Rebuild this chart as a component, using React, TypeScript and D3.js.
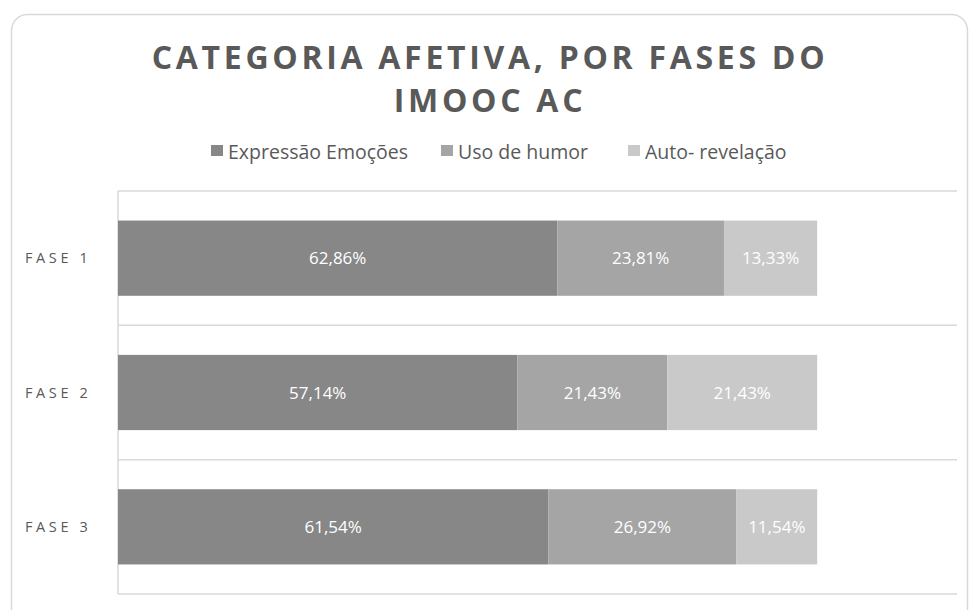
import React from "react";
import * as d3 from "d3";

const categories = ["FASE 1", "FASE 2", "FASE 3"];
const seriesNames = ["Expressão Emoções", "Uso de humor", "Auto- revelação"];
const expressao = [62.86, 57.14, 61.54];
const humor = [23.81, 21.43, 26.92];
const autoRevelacao = [13.33, 21.43, 11.54];
const labelsExpressao = ["62,86%", "57,14%", "61,54%"];
const labelsHumor = ["23,81%", "21,43%", "26,92%"];
const labelsAuto = ["13,33%", "21,43%", "11,54%"];
const colors = ["#878787", "#a5a5a5", "#c9c9c9"];
const xMax = 120;

export default function App() {
  const W = 971, H = 610;
  const left = 118, right = 957, top = 191, bottom = 594;
  const x = d3.scaleLinear().domain([0, xMax]).range([left, right]);
  const y = d3.scaleBand<string>().domain(categories).range([top, bottom]).paddingInner(0.44).paddingOuter(0.22);
  const seriesVals = [expressao, humor, autoRevelacao];
  const seriesLabels = [labelsExpressao, labelsHumor, labelsAuto];
  const rows = categories.map((c, i) => ({ cat: c, ...Object.fromEntries(seriesNames.map((s, k) => [s, seriesVals[k][i]])) }));
  const stacked = d3.stack<any>().keys(seriesNames)(rows);
  const step = (bottom - top) / categories.length;
  const font = "'Open Sans', sans-serif";
  const legendItems = [
    { x: 211, name: seriesNames[0] },
    { x: 441, name: seriesNames[1] },
    { x: 628, name: seriesNames[2] },
  ];
  return (
    <svg width={W} height={H} style={{ position: "fixed", left: 0, top: 0, background: "#fff" }} fontFamily={font}>
      <rect x={11.5} y={14.5} width={956} height={610} rx={16} fill="#fff" stroke="#d9d9d9" strokeWidth={1.5} />
      <text x={490} y={69} textAnchor="middle" fontSize={32} fontWeight={700} fill="#595959" letterSpacing={3.7}>CATEGORIA AFETIVA, POR FASES DO</text>
      <text x={490} y={112} textAnchor="middle" fontSize={32} fontWeight={700} fill="#595959" letterSpacing={3.7}>IMOOC AC</text>
      {legendItems.map((l, i) => (
        <g key={l.name}>
          <rect x={l.x} y={145} width={12} height={11} fill={colors[i]} />
          <text x={l.x + 17} y={158.5} fontSize={19.5} fill="#595959">{l.name}</text>
        </g>
      ))}
      {d3.range(categories.length + 1).map((i) => (
        <line key={i} x1={left} x2={right} y1={top + i * step} y2={top + i * step} stroke="#d9d9d9" strokeWidth={1.5} />
      ))}
      <line x1={left} x2={left} y1={top} y2={bottom} stroke="#d9d9d9" strokeWidth={1.5} />
      {stacked.map((s, k) => (
        <g key={s.key}>
          {s.map((d, i) => (
            <g key={i}>
              <rect x={x(d[0])} y={y(categories[i])!} width={x(d[1]) - x(d[0])} height={y.bandwidth()} fill={colors[k]} />
              <text x={(x(d[0]) + x(d[1])) / 2} y={y(categories[i])! + y.bandwidth() / 2 + 6} textAnchor="middle" fontSize={17} fill="#ffffff">{seriesLabels[k][i]}</text>
            </g>
          ))}
        </g>
      ))}
      {categories.map((c) => (
        <text key={c} x={25} y={y(c)! + y.bandwidth() / 2 + 5} fontSize={14.5} fill="#595959" letterSpacing={3.6}>{c}</text>
      ))}
    </svg>
  );
}
